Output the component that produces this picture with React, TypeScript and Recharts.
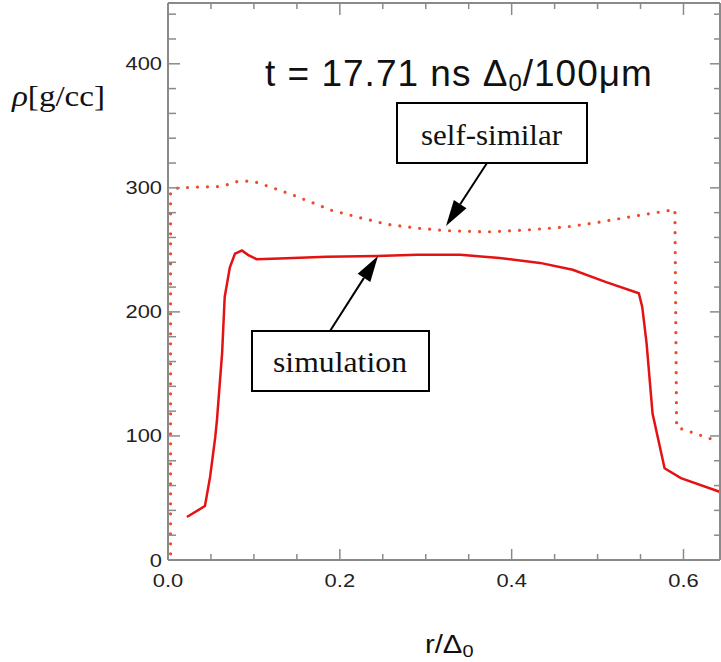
import { LineChart, Line, XAxis, YAxis } from 'recharts';

// simulation profile (solid)
const simR = [
  0.022, 0.043, 0.049, 0.055, 0.057, 0.063, 0.066, 0.072, 0.078, 0.086, 0.093, 0.103, 0.13,
  0.185, 0.243, 0.29, 0.34, 0.386, 0.433, 0.471, 0.51, 0.548, 0.552, 0.557, 0.564, 0.578,
  0.597, 0.642,
];
const simRho = [
  34.7, 43.5, 67, 99, 113, 167, 212, 236, 247, 249.5, 246, 242.5, 243, 244.4, 245, 246, 246,
  243.5, 239.5, 234, 224, 215, 204, 175, 118, 74, 66, 55,
];

// self-similar profile (dotted)
const selfR = [
  0.003, 0.003, 0.012, 0.035, 0.058, 0.07, 0.08, 0.092, 0.102, 0.114, 0.126, 0.147, 0.19,
  0.223, 0.256, 0.29, 0.324, 0.371, 0.417, 0.464, 0.499, 0.545, 0.59, 0.592, 0.605, 0.616,
  0.627, 0.642,
];
const selfRho = [
  5, 297, 300, 300.6, 301, 302.7, 305, 305.4, 304.6, 301.9, 299, 293.8, 282, 276, 270.5,
  267.5, 265.5, 264.5, 266, 268.5, 272, 277.5, 282.5, 107, 104, 101.6, 98.5, 96,
];

const xTicks = [0, 0.05, 0.1, 0.15, 0.2, 0.25, 0.3, 0.35, 0.4, 0.45, 0.5, 0.55, 0.6];
const xMajor = [0, 0.2, 0.4, 0.6];
const xMajorLabels = ['0.0', '0.2', '0.4', '0.6'];
const yTicks = [
  0, 20, 40, 60, 80, 100, 120, 140, 160, 180, 200, 220, 240, 260, 280, 300, 320, 340, 360,
  380, 400, 420, 440,
];
const yMajor = [0, 100, 200, 300, 400];
const yMajorLabels = ['0', '100', '200', '300', '400'];

const simData = simR.map((x, i) => ({ x, y: simRho[i] }));
const selfData = selfR.map((x, i) => ({ x, y: selfRho[i] }));

const GRAY = '#8a8a8a';
const SANS = '"Liberation Sans", Arial, sans-serif';
const SERIF = '"Liberation Serif", "Times New Roman", serif';

const majorIndex = (list: number[], v: number) => list.findIndex((m) => Math.abs(m - v) < 1e-6);

function BottomTick({ x, y, payload }: any) {
  const i = majorIndex(xMajor, payload.value);
  return (
    <g>
      <line x1={x} x2={x} y1={y} y2={y - (i >= 0 ? 11 : 6)} stroke={GRAY} strokeWidth={1.5} />
      {i >= 0 && (
        <text
          transform={`translate(${x},${y + 27}) scale(1.22,1)`}
          textAnchor="middle"
          fontFamily={SANS}
          fontSize={18}
          fill="#222"
        >
          {xMajorLabels[i]}
        </text>
      )}
    </g>
  );
}

function TopTick({ x, y, payload }: any) {
  const i = majorIndex(xMajor, payload.value);
  return <line x1={x} x2={x} y1={y} y2={y + (i >= 0 ? 12 : 6)} stroke={GRAY} strokeWidth={1.5} />;
}

function LeftTick({ x, y, payload }: any) {
  const i = majorIndex(yMajor, payload.value);
  return (
    <g>
      <line x1={x} x2={x + (i >= 0 ? 12 : 8)} y1={y} y2={y} stroke={GRAY} strokeWidth={1.5} />
      {i >= 0 && (
        <text
          transform={`translate(${x - 6},${y + 6.5}) scale(1.25,1)`}
          textAnchor="end"
          fontFamily={SANS}
          fontSize={17.5}
          fill="#222"
        >
          {yMajorLabels[i]}
        </text>
      )}
    </g>
  );
}

function RightTick({ x, y, payload }: any) {
  const i = majorIndex(yMajor, payload.value);
  return <line x1={x} x2={x - (i >= 0 ? 10 : 6)} y1={y} y2={y} stroke={GRAY} strokeWidth={1.5} />;
}

function Arrow({ x1, y1, x2, y2 }: { x1: number; y1: number; x2: number; y2: number }) {
  const dx = x2 - x1;
  const dy = y2 - y1;
  const len = Math.hypot(dx, dy);
  const ux = dx / len;
  const uy = dy / len;
  const hl = 26;
  const hw = 7.5;
  const bx = x2 - ux * hl;
  const by = y2 - uy * hl;
  return (
    <g>
      <line x1={x1} y1={y1} x2={bx} y2={by} stroke="#000" strokeWidth={2} />
      <polygon
        points={`${x2},${y2} ${bx - uy * hw},${by + ux * hw} ${bx + uy * hw},${by - ux * hw}`}
        fill="#000"
      />
    </g>
  );
}

export default function App() {
  const axisLine = { stroke: GRAY, strokeWidth: 2 };
  return (
    <div style={{ position: 'relative', width: 721, height: 662, background: '#fff' }}>
      <style>{'body{margin:0}'}</style>
      <LineChart width={721} height={662} margin={{ top: 0, right: 0, bottom: 0, left: 0 }}>
        <XAxis
          xAxisId="b"
          dataKey="x"
          type="number"
          domain={[0, 0.6425]}
          allowDataOverflow
          ticks={xTicks}
          interval={0}
          height={102}
          tickSize={0}
          tickMargin={0}
          tickLine={false}
          axisLine={axisLine}
          tick={<BottomTick />}
        />
        <XAxis
          xAxisId="t"
          orientation="top"
          dataKey="x"
          type="number"
          domain={[0, 0.6425]}
          allowDataOverflow
          ticks={xTicks}
          interval={0}
          height={3}
          tickSize={0}
          tickMargin={0}
          tickLine={false}
          axisLine={axisLine}
          tick={<TopTick />}
        />
        <YAxis
          yAxisId="l"
          type="number"
          domain={[0, 449]}
          allowDataOverflow
          ticks={yTicks}
          interval={0}
          width={168}
          tickSize={0}
          tickMargin={0}
          tickLine={false}
          axisLine={axisLine}
          tick={<LeftTick />}
        />
        <YAxis
          yAxisId="r"
          orientation="right"
          type="number"
          domain={[0, 449]}
          allowDataOverflow
          ticks={yTicks}
          interval={0}
          width={1}
          tickSize={0}
          tickMargin={0}
          tickLine={false}
          axisLine={axisLine}
          tick={<RightTick />}
        />
        <Line
          data={selfData}
          xAxisId="b"
          yAxisId="l"
          dataKey="y"
          type="linear"
          stroke="#ef4a2a"
          strokeWidth={3.2}
          strokeDasharray="0 10"
          strokeLinecap="round"
          dot={false}
          isAnimationActive={false}
        />
        <Line
          data={simData}
          xAxisId="b"
          yAxisId="l"
          dataKey="y"
          type="linear"
          stroke="#e41212"
          strokeWidth={2.5}
          dot={false}
          isAnimationActive={false}
        />
      </LineChart>
      <svg
        width={721}
        height={662}
        style={{ position: 'absolute', left: 0, top: 0, pointerEvents: 'none' }}
      >
        <text x={265} y={86} fontFamily={SANS} fontSize={37} letterSpacing={1} fill="#111">
          t = 17.71 ns Δ
          <tspan fontSize={24} dy={5}>
            0
          </tspan>
          <tspan dy={-5}>/100μm</tspan>
        </text>
        <text
          x={12}
          y={106}
          fontFamily={SERIF}
          fontSize={30}
          textLength={93}
          lengthAdjust="spacingAndGlyphs"
          fill="#111"
        >
          <tspan fontStyle="italic">ρ</tspan>[g/cc]
        </text>
        <text transform="translate(425,653) scale(1.17,1)" fontFamily={SANS} fontSize={25} fill="#111">
          r/Δ
          <tspan fontSize={17} dy={4}>
            0
          </tspan>
        </text>

        <rect x={397} y={103} width={190} height={60} fill="#fff" stroke="#000" strokeWidth={2} />
        <text
          x={421}
          y={145}
          fontFamily={SERIF}
          fontSize={30}
          textLength={141}
          lengthAdjust="spacingAndGlyphs"
          fill="#111"
        >
          self-similar
        </text>
        <Arrow x1={487} y1={163} x2={446} y2={226} />

        <rect x={252} y={331} width={177} height={60} fill="#fff" stroke="#000" strokeWidth={2} />
        <text
          x={273}
          y={372}
          fontFamily={SERIF}
          fontSize={30}
          textLength={134}
          lengthAdjust="spacingAndGlyphs"
          fill="#111"
        >
          simulation
        </text>
        <Arrow x1={330} y1={331} x2={378} y2={256} />
      </svg>
    </div>
  );
}
